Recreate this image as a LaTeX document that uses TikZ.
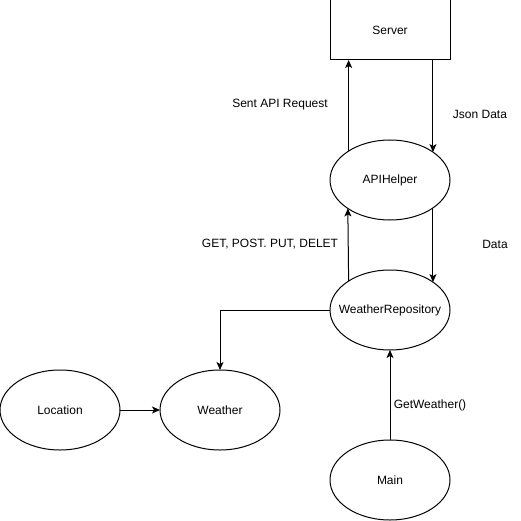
\documentclass[tikz,border=0pt]{standalone}
\usepackage{fontspec}
\setmainfont{Liberation Sans}
\usetikzlibrary{shapes.geometric,arrows.meta}
\begin{document}
\begin{tikzpicture}[x=1pt,y=-1pt,
  every node/.style={font=\fontsize{12}{14}\selectfont},
  oval/.style={draw,ellipse,line width=1pt,minimum width=120pt,minimum height=80pt,inner sep=0pt,outer sep=0pt},
  box/.style={draw,rectangle,line width=1pt,minimum width=120pt,minimum height=60pt,inner sep=0pt,outer sep=0pt},
  lbl/.style={inner sep=0pt},
  arr/.style={line width=1pt,-{Stealth[length=8pt,width=7pt,inset=2pt]}}]
\useasboundingbox (0,0) rectangle (521,521);
\node[box] (server) at (390,30) {Server};
\node[oval] (api) at (390,180) {\makebox[0pt]{APIHelper}};
\node[oval] (wr) at (390,310) {\makebox[0pt]{WeatherRepository}};
\node[oval] (weather) at (220,410) {\makebox[0pt]{Weather}};
\node[oval] (loc) at (60,410) {\makebox[0pt]{Location}};
\node[oval] (main) at (390,480) {\makebox[0pt]{Main}};
\draw[arr] (api.145.8) -- (api.145.8 |- server.south);
\draw[arr] (server.south -| api.33) -- (api.33);
\draw[arr] (wr.145.8) -- (api.214.2);
\draw[arr] (api.-33) -- (wr.33);
\draw[arr] (wr.west) -| (weather.north);
\draw[arr] (loc.east) -- (weather.west);
\draw[arr] (main.north) -- (wr.south);
\node[lbl] (l1) at (280,105) {Sent API Request};
\node[lbl] (l2) at (480,114) {Json Data};
\node[lbl] (l3) at (270,244) {GET, POST. PUT, DELET};
\node[lbl] (l4) at (495,244) {Data};
\node[lbl] (l5) at (430,405) {GetWeather()};
\end{tikzpicture}
\end{document}
